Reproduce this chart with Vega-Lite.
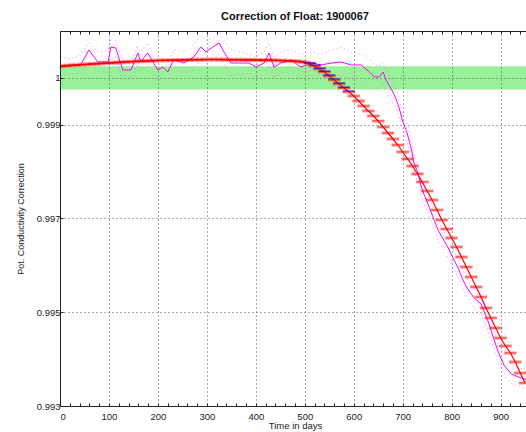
{
  "$schema": "https://vega.github.io/schema/vega-lite/v6.json",
  "width": 470,
  "height": 375,
  "autosize": "none",
  "padding": {"left": 60, "top": 31, "right": 0, "bottom": 26},
  "background": "white",
  "title": {"text": "Correction of Float: 1900067", "fontSize": 11, "fontWeight": "bold", "font": "Liberation Sans", "color": "#111", "offset": 9},
  "config": {
    "font": "Liberation Sans",
    "view": {"stroke": null},
    "axis": {"labelFont": "Liberation Sans", "titleFont": "Liberation Sans", "labelColor": "#222", "titleColor": "#222", "domainColor": "#222", "tickColor": "#222", "labelFontSize": 9.5, "titleFontSize": 9, "titleFontWeight": "normal"}
  },
  "datasets": {
    "band": [{"lo": 0.99975, "hi": 1.00025}],
    "red": [
      {"d": 0, "v": 1.00025}, {"d": 10, "v": 1.00026}, {"d": 20, "v": 1.000266}, {"d": 30, "v": 1.000273},
      {"d": 40, "v": 1.00028}, {"d": 50, "v": 1.000285}, {"d": 60, "v": 1.000292}, {"d": 70, "v": 1.000298},
      {"d": 80, "v": 1.000305}, {"d": 90, "v": 1.000311}, {"d": 100, "v": 1.000317}, {"d": 110, "v": 1.000324},
      {"d": 120, "v": 1.00033}, {"d": 130, "v": 1.000336}, {"d": 140, "v": 1.000343}, {"d": 150, "v": 1.000349},
      {"d": 160, "v": 1.000354}, {"d": 170, "v": 1.000358}, {"d": 180, "v": 1.000362}, {"d": 190, "v": 1.000366},
      {"d": 200, "v": 1.000371}, {"d": 210, "v": 1.000373}, {"d": 220, "v": 1.000375}, {"d": 230, "v": 1.000377},
      {"d": 240, "v": 1.000379}, {"d": 250, "v": 1.000381}, {"d": 260, "v": 1.000384}, {"d": 270, "v": 1.000386},
      {"d": 280, "v": 1.000388}, {"d": 290, "v": 1.00039}, {"d": 300, "v": 1.000392}, {"d": 310, "v": 1.000392},
      {"d": 320, "v": 1.000392}, {"d": 330, "v": 1.00039}, {"d": 340, "v": 1.00039}, {"d": 350, "v": 1.000388},
      {"d": 360, "v": 1.000388}, {"d": 370, "v": 1.000386}, {"d": 380, "v": 1.000386}, {"d": 390, "v": 1.000384},
      {"d": 400, "v": 1.000381}, {"d": 410, "v": 1.000379}, {"d": 420, "v": 1.000377}, {"d": 430, "v": 1.000375},
      {"d": 440, "v": 1.000373}, {"d": 450, "v": 1.000371}, {"d": 460, "v": 1.000366}, {"d": 470, "v": 1.000362},
      {"d": 480, "v": 1.000356}, {"d": 490, "v": 1.000347}, {"d": 500, "v": 1.000334}, {"d": 510, "v": 1.000307},
      {"d": 520, "v": 1.000253}, {"d": 530, "v": 1.00019}, {"d": 540, "v": 1.000126}, {"d": 550, "v": 1.00004},
      {"d": 560, "v": 0.999955}, {"d": 570, "v": 0.99987}, {"d": 580, "v": 0.999784}, {"d": 590, "v": 0.999699},
      {"d": 600, "v": 0.999613}, {"d": 610, "v": 0.999507}, {"d": 620, "v": 0.9994}, {"d": 630, "v": 0.999294},
      {"d": 640, "v": 0.999187}, {"d": 650, "v": 0.99908}, {"d": 660, "v": 0.998952}, {"d": 670, "v": 0.998824},
      {"d": 680, "v": 0.998696}, {"d": 690, "v": 0.998568}, {"d": 700, "v": 0.998419}, {"d": 710, "v": 0.99827},
      {"d": 720, "v": 0.99812}, {"d": 730, "v": 0.99795}, {"d": 740, "v": 0.99778}, {"d": 750, "v": 0.997587},
      {"d": 760, "v": 0.997395}, {"d": 770, "v": 0.997181}, {"d": 780, "v": 0.996968}, {"d": 790, "v": 0.996776},
      {"d": 800, "v": 0.996584}, {"d": 810, "v": 0.996392}, {"d": 820, "v": 0.996179}, {"d": 830, "v": 0.995966},
      {"d": 840, "v": 0.995752}, {"d": 850, "v": 0.995539}, {"d": 860, "v": 0.995326}, {"d": 870, "v": 0.995091},
      {"d": 880, "v": 0.994878}, {"d": 890, "v": 0.994664}, {"d": 900, "v": 0.994451}, {"d": 910, "v": 0.99428},
      {"d": 920, "v": 0.994131}, {"d": 930, "v": 0.993939}, {"d": 940, "v": 0.993704}, {"d": 950, "v": 0.993491}
    ],
    "blue": [
      {"d": 510, "v": 1.00032}, {"d": 520, "v": 1.00027}, {"d": 530, "v": 1.00021}, {"d": 540, "v": 1.00014},
      {"d": 550, "v": 1.00006}, {"d": 560, "v": 0.99998}, {"d": 570, "v": 0.99989}, {"d": 580, "v": 0.9998},
      {"d": 590, "v": 0.99972}
    ],
    "mag": [
      {"d": 1, "m": 1.000232, "hi": 1.00045, "lo": 1.00005}, {"d": 20, "m": 1.000253, "hi": 1.0004, "lo": 1.00008},
      {"d": 42, "m": 1.000275, "hi": 1.0005, "lo": 1.0001}, {"d": 59, "m": 1.000595, "hi": 1.00075, "lo": 1.00035},
      {"d": 77, "m": 1.000339, "hi": 1.00055, "lo": 1.00015}, {"d": 98, "m": 1.000339, "hi": 1.0006, "lo": 1.00012},
      {"d": 104, "m": 1.000659, "hi": 1.00085, "lo": 1.0004}, {"d": 114, "m": 1.000637, "hi": 1.0008, "lo": 1.00045},
      {"d": 128, "m": 1.000168, "hi": 1.0004, "lo": 0.99995}, {"d": 145, "m": 1.000168, "hi": 1.00035, "lo": 0.99998},
      {"d": 159, "m": 1.000531, "hi": 1.0007, "lo": 1.0003}, {"d": 165, "m": 1.000339, "hi": 1.00055, "lo": 1.00015},
      {"d": 179, "m": 1.000531, "hi": 1.00075, "lo": 1.0003}, {"d": 190, "m": 1.000339, "hi": 1.0005, "lo": 1.00012},
      {"d": 200, "m": 1.000168, "hi": 1.0004, "lo": 0.99995}, {"d": 210, "m": 1.000232, "hi": 1.00045, "lo": 1.0},
      {"d": 220, "m": 1.000125, "hi": 1.00035, "lo": 0.9999}, {"d": 232, "m": 1.000381, "hi": 1.0006, "lo": 1.00015},
      {"d": 253, "m": 1.000317, "hi": 1.00055, "lo": 1.0001}, {"d": 273, "m": 1.000445, "hi": 1.0007, "lo": 1.0002},
      {"d": 288, "m": 1.000659, "hi": 1.0009, "lo": 1.0004}, {"d": 298, "m": 1.000552, "hi": 1.0008, "lo": 1.0003},
      {"d": 312, "m": 1.000659, "hi": 1.00085, "lo": 1.0004}, {"d": 325, "m": 1.000744, "hi": 1.00095, "lo": 1.0005},
      {"d": 335, "m": 1.000552, "hi": 1.0008, "lo": 1.0003}, {"d": 349, "m": 1.000317, "hi": 1.0006, "lo": 1.00005},
      {"d": 370, "m": 1.000317, "hi": 1.00055, "lo": 1.00008}, {"d": 386, "m": 1.000317, "hi": 1.0005, "lo": 1.0001},
      {"d": 400, "m": 1.000232, "hi": 1.00045, "lo": 1.0}, {"d": 417, "m": 1.000317, "hi": 1.00055, "lo": 1.00008},
      {"d": 427, "m": 1.000531, "hi": 1.00075, "lo": 1.0003}, {"d": 437, "m": 1.000232, "hi": 1.00045, "lo": 1.0},
      {"d": 451, "m": 1.000317, "hi": 1.00055, "lo": 1.0001}, {"d": 472, "m": 1.000381, "hi": 1.0006, "lo": 1.00015},
      {"d": 492, "m": 1.000232, "hi": 1.0005, "lo": 0.99998}, {"d": 517, "m": 1.000317, "hi": 1.00055, "lo": 1.00008},
      {"d": 533, "m": 1.000275, "hi": 1.0005, "lo": 1.00005}, {"d": 554, "m": 1.000317, "hi": 1.0006, "lo": 1.00005},
      {"d": 574, "m": 1.000339, "hi": 1.00065, "lo": 1.00005}, {"d": 595, "m": 1.000275, "hi": 1.00055, "lo": 1.0},
      {"d": 615, "m": 1.000275, "hi": 1.0005, "lo": 1.00002}, {"d": 632, "m": 1.000125, "hi": 1.0004, "lo": 0.99985},
      {"d": 642, "m": 1.000019, "hi": 1.0003, "lo": 0.99975}, {"d": 652, "m": 1.000019, "hi": 1.00025, "lo": 0.99978},
      {"d": 660, "m": 1.000125, "hi": 1.00035, "lo": 0.9999}, {"d": 666, "m": 0.999955, "hi": 1.0002, "lo": 0.9997},
      {"d": 672, "m": 0.999848, "hi": 1.00008, "lo": 0.9996}, {"d": 685, "m": 0.999592, "hi": 0.9998, "lo": 0.99938},
      {"d": 693, "m": 0.999357, "hi": 0.99955, "lo": 0.99915}, {"d": 699, "m": 0.999101, "hi": 0.9993, "lo": 0.9989},
      {"d": 709, "m": 0.998824, "hi": 0.99902, "lo": 0.99862}, {"d": 718, "m": 0.998461, "hi": 0.99866, "lo": 0.99826},
      {"d": 723, "m": 0.998184, "hi": 0.99838, "lo": 0.99798}, {"d": 731, "m": 0.99797, "hi": 0.99817, "lo": 0.99777},
      {"d": 738, "m": 0.997672, "hi": 0.99787, "lo": 0.99747}, {"d": 744, "m": 0.997501, "hi": 0.9977, "lo": 0.9973},
      {"d": 758, "m": 0.997139, "hi": 0.99734, "lo": 0.99694}, {"d": 772, "m": 0.996755, "hi": 0.99695, "lo": 0.99655},
      {"d": 793, "m": 0.996371, "hi": 0.99657, "lo": 0.99617}, {"d": 813, "m": 0.995944, "hi": 0.99614, "lo": 0.99574},
      {"d": 826, "m": 0.995624, "hi": 0.99582, "lo": 0.99542}, {"d": 834, "m": 0.995475, "hi": 0.99567, "lo": 0.99527},
      {"d": 846, "m": 0.995304, "hi": 0.9955, "lo": 0.9951}, {"d": 860, "m": 0.995176, "hi": 0.99537, "lo": 0.99497},
      {"d": 875, "m": 0.994792, "hi": 0.99499, "lo": 0.99459}, {"d": 885, "m": 0.994472, "hi": 0.99467, "lo": 0.99427},
      {"d": 895, "m": 0.994152, "hi": 0.99435, "lo": 0.99395}, {"d": 908, "m": 0.993853, "hi": 0.99405, "lo": 0.99365},
      {"d": 922, "m": 0.993683, "hi": 0.99388, "lo": 0.99348}, {"d": 936, "m": 0.993619, "hi": 0.99382, "lo": 0.99342},
      {"d": 955, "m": 0.993555, "hi": 0.99375, "lo": 0.99335}
    ]
  },
  "resolve": {"axis": {"y": "independent"}},
  "layer": [
    {
      "data": {"name": "band"},
      "mark": {"type": "rect", "color": "#98F098", "opacity": 1},
      "encoding": {
        "y": {"field": "hi", "type": "quantitative", "scale": {"domain": [0.993, 1.001], "nice": false, "zero": false},
          "axis": {"orient": "left", "values": [0.993, 0.995, 0.997, 0.999, 1], "labelExpr": "datum.value === 1 ? '1' : format(datum.value, '.3f')", "grid": true, "gridDash": [1, 3], "gridColor": "#555", "gridWidth": 1,
            "tickSize": -3, "labelPadding": 3, "zindex": 1, "title": "Pot. Conductivity Correction", "titlePadding": 11, "titleFontSize": 9}},
        "y2": {"field": "lo"}
      }
    },
    {
      "data": {"name": "mag"},
      "mark": {"type": "line", "color": "#ff66ff", "strokeWidth": 1, "strokeDash": [1, 3], "opacity": 0.8, "clip": true},
      "encoding": {
        "x": {"field": "d", "type": "quantitative", "scale": {"domain": [0, 960], "nice": false, "zero": false}, "axis": null},
        "y": {"field": "hi", "type": "quantitative", "axis": null}
      }
    },
    {
      "data": {"name": "mag"},
      "mark": {"type": "line", "color": "#ff66ff", "strokeWidth": 1, "strokeDash": [1, 3], "opacity": 0.8, "clip": true},
      "encoding": {
        "x": {"field": "d", "type": "quantitative", "axis": null},
        "y": {"field": "lo", "type": "quantitative", "axis": null}
      }
    },
    {
      "data": {"name": "mag"},
      "mark": {"type": "line", "color": "#ff00ff", "strokeWidth": 1, "clip": true},
      "encoding": {
        "x": {"field": "d", "type": "quantitative",
          "axis": {"orient": "top", "values": [0,20,40,60,80,100,120,140,160,180,200,220,240,260,280,300,320,340,360,380,400,420,440,460,480,500,520,540,560,580,600,620,640,660,680,700,720,740,760,780,800,820,840,860,880,900,920,940],
            "labels": false, "grid": false, "tickSize": -3, "title": null, "zindex": 1}},
        "y": {"field": "m", "type": "quantitative", "axis": null}
      }
    },
    {
      "data": {"name": "red"},
      "mark": {"type": "tick", "orient": "horizontal", "color": "#ff0000", "size": 13, "thickness": 4, "opacity": 0.2, "clip": true},
      "encoding": {
        "x": {"field": "d", "type": "quantitative", "axis": null},
        "y": {"field": "v", "type": "quantitative", "axis": null}
      }
    },
    {
      "data": {"name": "red"},
      "mark": {"type": "line", "color": "#ff0000", "strokeWidth": 1.2, "clip": true},
      "encoding": {
        "x": {"field": "d", "type": "quantitative",
          "axis": {"orient": "bottom", "values": [0,20,40,60,80,100,120,140,160,180,200,220,240,260,280,300,320,340,360,380,400,420,440,460,480,500,520,540,560,580,600,620,640,660,680,700,720,740,760,780,800,820,840,860,880,900,920,940],
            "labelExpr": "datum.value % 100 === 0 ? datum.label : ''",
            "grid": true, "gridDash": [1, 3], "gridColor": "#555", "gridWidth": 1,
            "gridOpacity": {"condition": {"test": "datum.value % 100 === 0 && datum.value > 0", "value": 1}, "value": 0},
            "tickSize": -3, "labelPadding": 8, "zindex": 1, "title": "Time in days", "titlePadding": 0, "titleFontSize": 9.5}},
        "y": {"field": "v", "type": "quantitative", "axis": null}
      }
    },
    {
      "data": {"name": "red"},
      "mark": {"type": "tick", "orient": "horizontal", "color": "#ff0000", "size": 12, "thickness": 1.3, "clip": true},
      "encoding": {
        "x": {"field": "d", "type": "quantitative", "axis": null},
        "y": {"field": "v", "type": "quantitative", "axis": null}
      }
    },
    {
      "data": {"name": "blue"},
      "mark": {"type": "tick", "orient": "horizontal", "color": "#0000ff", "size": 12, "thickness": 1.3, "clip": true},
      "encoding": {
        "x": {"field": "d", "type": "quantitative", "axis": null},
        "y": {"field": "v", "type": "quantitative", "axis": null}
      }
    }
  ]
}
